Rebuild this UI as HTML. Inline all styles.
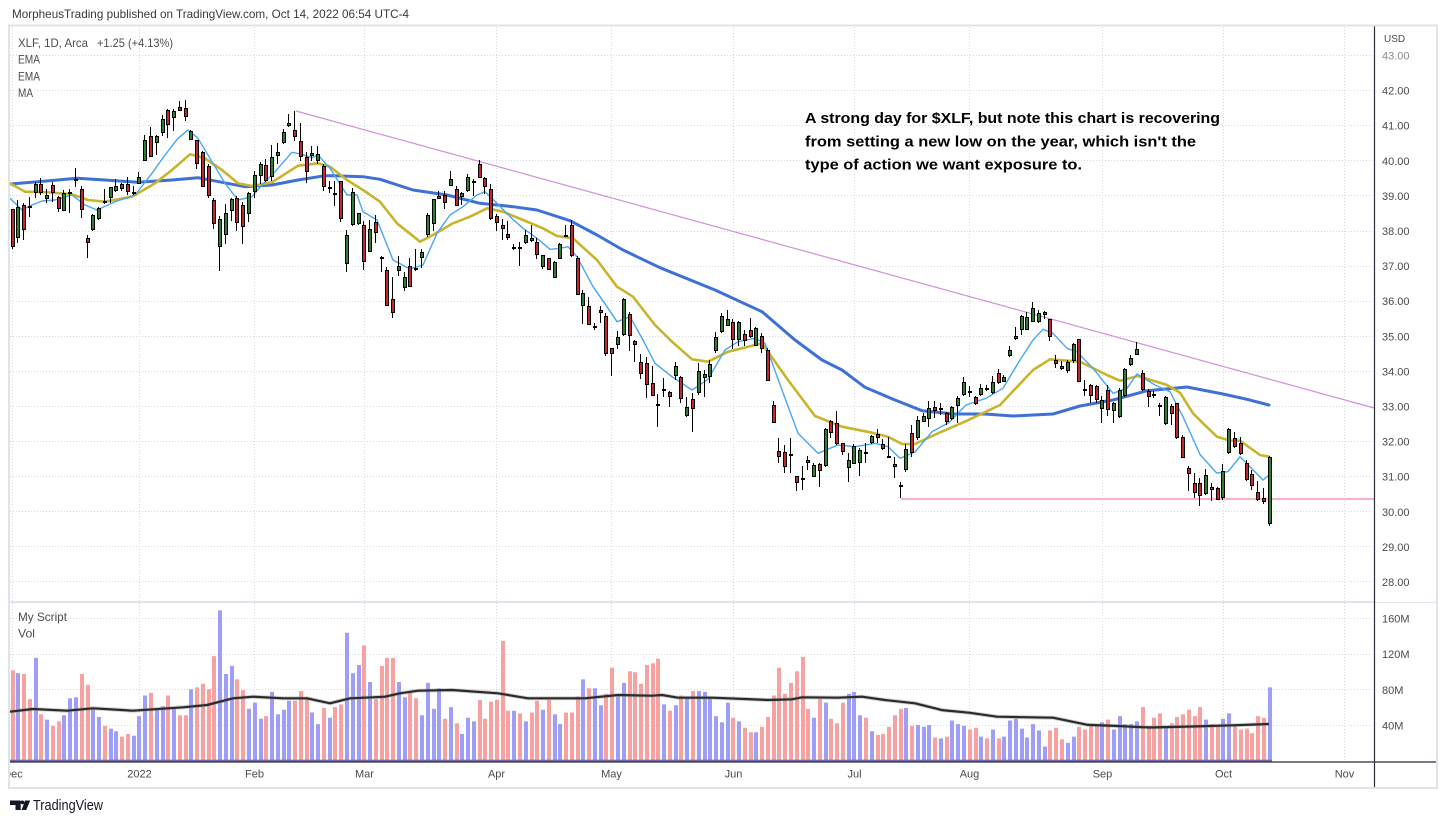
<!DOCTYPE html>
<html><head><meta charset="utf-8"><style>
html,body{margin:0;padding:0;background:#fff;}
svg{display:block;}
</style></head><body>
<svg id="c" width="1446" height="823" xmlns="http://www.w3.org/2000/svg" font-family="'Liberation Sans', sans-serif">
<rect x="0" y="0" width="1446" height="823" fill="#fff"/>
<text x="12" y="18" font-size="12" fill="#3a3a3a" textLength="397" lengthAdjust="spacingAndGlyphs">MorpheusTrading published on TradingView.com, Oct 14, 2022 06:54 UTC-4</text>

<!-- grid -->
<g stroke="#d6d9e1" stroke-width="1" stroke-dasharray="1 2" fill="none">
<path d="M10 55.5H1374M10 90.5H1374M10 125.5H1374M10 160.5H1374M10 195.5H1374M10 231.5H1374M10 266.5H1374M10 301.5H1374M10 336.5H1374M10 371.5H1374M10 406.5H1374M10 441.5H1374M10 476.5H1374M10 511.5H1374M10 546.5H1374M10 581.5H1374"/>
<path d="M10 618.5H1374M10 654.5H1374M10 689.5H1374M10 725.5H1374"/>
<path d="M12.5 27V601M139.5 27V601M254.5 27V601M364.5 27V601M496.5 27V601M611.5 27V601M733.5 27V601M854.5 27V601M969.5 27V601M1102.5 27V601M1223.5 27V601M1344.5 27V601"/>
<path d="M12.5 603V761M139.5 603V761M254.5 603V761M364.5 603V761M496.5 603V761M611.5 603V761M733.5 603V761M854.5 603V761M969.5 603V761M1102.5 603V761M1223.5 603V761M1344.5 603V761"/>
</g>

<!-- legend -->
<text x="18" y="47" font-size="12" fill="#4d4d4d" textLength="70" lengthAdjust="spacingAndGlyphs">XLF, 1D, Arca</text>
<text x="97" y="47" font-size="12" fill="#4d4d4d" textLength="76" lengthAdjust="spacingAndGlyphs">+1.25 (+4.13%)</text>
<text x="18" y="63.5" font-size="12" fill="#4d4d4d" textLength="22" lengthAdjust="spacingAndGlyphs">EMA</text>
<text x="18" y="80.3" font-size="12" fill="#4d4d4d" textLength="22" lengthAdjust="spacingAndGlyphs">EMA</text>
<text x="18" y="97" font-size="12" fill="#4d4d4d" textLength="15" lengthAdjust="spacingAndGlyphs">MA</text>
<text x="18" y="621" font-size="12" fill="#4d4d4d" textLength="49" lengthAdjust="spacingAndGlyphs">My Script</text>
<text x="18" y="637.5" font-size="12" fill="#4d4d4d" textLength="17" lengthAdjust="spacingAndGlyphs">Vol</text>

<!-- annotation -->
<g font-weight="bold" font-size="15" fill="#000">
<text x="805" y="123" textLength="415" lengthAdjust="spacingAndGlyphs">A strong day for $XLF, but note this chart is recovering</text>
<text x="805" y="146.3" textLength="391" lengthAdjust="spacingAndGlyphs">from setting a new low on the year, which isn't the</text>
<text x="805" y="169.3" textLength="277" lengthAdjust="spacingAndGlyphs">type of action we want exposure to.</text>
</g>

<!-- trend lines -->
<line x1="296" y1="111" x2="1374" y2="408" stroke="#d38fdc" stroke-width="1.2"/>
<line x1="901" y1="499" x2="1374" y2="499" stroke="#f6b3c9" stroke-width="2.2"/>

<!-- moving averages -->
<g fill="none" stroke-linejoin="round" stroke-linecap="round">
<polyline stroke="#3f70d6" stroke-width="3" points="10,184 38,181.7 77,178.3 105,180 138,182.3 172,180 198,177.7 222,182.3 245,186.7 272,185 298,180 325,175.7 335,175.7 363,176.7 380,179.3 413,190 447,195 480,203.3 513,206.7 537,210 570,220.7 597,235 623,250 660,267.7 715,290 762,311.7 795,340 822,360 842,370 865,387.3 895,400 922,410.7 955,414 985,414 1013,416 1053,414 1080,406 1113,400 1147,390.7 1187,387 1223,394 1247,399.3 1269,405"/>
<polyline stroke="#c9b42b" stroke-width="2.6" points="10,183.3 25,191.7 48,192.3 72,194.3 88,200 105,201.7 132,196.7 155,183.3 172,170 190,154.3 205,158.3 222,170 238,183.3 252,186 272,182.3 298,165.7 318,163.3 330,166.7 347,180 363,190 380,201.7 397,223.3 420,241.7 433,235 453,223.3 470,216.7 487,208.3 503,211.7 523,220 543,228.3 557,236 573,238.3 597,260 617,286.7 633,296.7 655,325 672,341.7 692,359.3 708,361.7 728,351.7 762,343.3 788,380 815,416 842,426.7 872,432.7 888,436.7 902,444 915,444 938,433.3 967,420.7 1000,405 1033,370 1050,359.3 1080,361.7 1107,375 1120,380.7 1138,376 1167,385 1180,392.7 1193,413.3 1203,423.3 1217,436.7 1230,440.5 1240,440.7 1260,455 1269,456.7"/>
<polyline stroke="#48a6f2" stroke-width="1.4" points="10,198.3 22,210 32,205 42,201 55,200 72,195 85,205 97,210 115,201.7 135,195 152,173.3 165,155 178,138.3 188,130 198,138.3 212,161.7 225,183.3 238,200 252,196.7 262,185 275,171.7 292,152.3 302,154.3 312,157.7 318,155 330,168.3 347,195 357,195 363,211.7 377,220 393,260 410,269 423,265 437,233.3 450,215 463,206.7 477,195 485,191.7 497,203.3 510,216.7 523,228.3 537,238.3 550,249.3 560,248.3 568,246.7 577,256.7 593,286.7 607,306.7 617,321.7 630,316.7 643,340 655,363.3 672,376.7 692,390 708,379.3 725,350 738,341.7 755,338.3 765,343.3 782,390 798,433.3 818,453.3 838,445 855,446.7 875,443.3 888,446.7 900,458.3 915,452 932,431.7 949,422.5 966,405 986,398.3 1003,388.3 1020,360 1033,340 1043,329.3 1053,333.3 1067,348.3 1077,352 1093,368.3 1113,393.3 1127,388.3 1137,374 1155,385 1170,391.7 1183,416.7 1200,454.5 1216.7,473 1228,471.7 1240,456.7 1263,480 1269,475"/>
</g>

<!-- candles -->
<path id="wk" fill="#000"/>
<path id="bo" fill="#000"/>
<path id="bu" fill="#2e7d32"/>
<path id="bd" fill="#c0282c"/>

<!-- volume -->
<path id="vu" fill="#9e9ef8"/>
<path id="vd" fill="#f9a0a0"/>
<rect x="10" y="759.7" width="1262" height="2" fill="#6f68ad"/>
<polyline fill="none" stroke="#9a9a9a" stroke-opacity="0.45" stroke-width="4" stroke-linejoin="round" points="10,711.7 33,709 67,710.7 93,708.3 133,710.7 183,707.3 207,705 233,698.3 253,696.7 283,698.3 307,698.3 330,703.3 350,698.3 373,697.3 385,696.7 400,693.3 418,690.7 452,690 498,693.3 528,698.3 585,698.3 618,695 652,695.7 662,695 678,697.7 712,697.7 745,699 768,700 792,699.3 802,697.3 838,697.7 862,696.7 885,700 915,703.3 942,710.1 969,712.7 997,716.7 1053,717.7 1088,724.9 1115,725.9 1150,727.5 1192,726.5 1233,725.3 1269,724"/>
<polyline fill="none" stroke="#2b2b2b" stroke-width="2.2" stroke-linejoin="round" points="10,711.7 33,709 67,710.7 93,708.3 133,710.7 183,707.3 207,705 233,698.3 253,696.7 283,698.3 307,698.3 330,703.3 350,698.3 373,697.3 385,696.7 400,693.3 418,690.7 452,690 498,693.3 528,698.3 585,698.3 618,695 652,695.7 662,695 678,697.7 712,697.7 745,699 768,700 792,699.3 802,697.3 838,697.7 862,696.7 885,700 915,703.3 942,710.1 969,712.7 997,716.7 1053,717.7 1088,724.9 1115,725.9 1150,727.5 1192,726.5 1233,725.3 1269,724"/>

<!-- pane separator & axes -->
<line x1="10" y1="602" x2="1436" y2="602" stroke="#e0e3eb" stroke-width="2"/>
<rect x="1375" y="27" width="60" height="575" fill="#fff"/>
<rect x="1375" y="603" width="60" height="158" fill="#fff"/>
<line x1="10" y1="762" x2="1436" y2="762" stroke="#2a2e39" stroke-width="1.2"/>
<line x1="1374.5" y1="26" x2="1374.5" y2="788" stroke="#2a2e39" stroke-width="1.2"/>

<!-- price axis labels -->
<g font-size="11" fill="#4a4a4a">
<text x="1384" y="42" font-size="10">USD</text>
<text x="1382" y="59.5" fill="#8a8a8a">43.00</text>
<text x="1382" y="94.6">42.00</text>
<text x="1382" y="129.7">41.00</text>
<text x="1382" y="164.8">40.00</text>
<text x="1382" y="199.9">39.00</text>
<text x="1382" y="235">38.00</text>
<text x="1382" y="270.1">37.00</text>
<text x="1382" y="305.2">36.00</text>
<text x="1382" y="340.3">35.00</text>
<text x="1382" y="375.4">34.00</text>
<text x="1382" y="410.5">33.00</text>
<text x="1382" y="445.6">32.00</text>
<text x="1382" y="480.7">31.00</text>
<text x="1382" y="515.8">30.00</text>
<text x="1382" y="550.9">29.00</text>
<text x="1382" y="586">28.00</text>
<text x="1382" y="622.3">160M</text>
<text x="1382" y="658.1">120M</text>
<text x="1382" y="693.9">80M</text>
<text x="1382" y="729.7">40M</text>
</g>

<!-- time axis labels -->
<g font-size="11" fill="#4a4a4a" text-anchor="middle">
<text x="13" y="777.5">Dec</text>
<text x="139.5" y="777.5">2022</text>
<text x="254.5" y="777.5">Feb</text>
<text x="364.5" y="777.5">Mar</text>
<text x="496.5" y="777.5">Apr</text>
<text x="611.5" y="777.5">May</text>
<text x="733.5" y="777.5">Jun</text>
<text x="854.5" y="777.5">Jul</text>
<text x="969.5" y="777.5">Aug</text>
<text x="1102.5" y="777.5">Sep</text>
<text x="1223.5" y="777.5">Oct</text>
<text x="1344.5" y="777.5">Nov</text>
</g>
<rect x="0" y="763" width="10" height="24" fill="#fff"/>

<!-- frame -->
<rect x="9" y="25.5" width="1428" height="762.5" fill="none" stroke="#e2e3e9" stroke-width="2"/>

<!-- TradingView logo -->
<path d="M10 800.5H20.7V810H15.5V805H10Z" fill="#131722"/>
<circle cx="22.4" cy="802.4" r="1.9" fill="#131722"/>
<path d="M25 800.5H30.2L26.2 810H21.6Z" fill="#131722"/>
<text x="33" y="810" font-size="15" fill="#131722" textLength="70" lengthAdjust="spacingAndGlyphs">TradingView</text>
</svg>
<script>
(function(){
var D=[
38.64,38.64,37.5,37.55, 37.79,38.88,37.65,38.67, 38.73,38.81,37.74,38.03, 38.7,38.98,38.4,38.65, 39.07,39.4,38.93,39.33,
39.33,39.5,39.02,39.07, 38.9,39.2,38.8,39.02, 39.3,39.4,38.84,39.07, 38.98,39.0,38.54,38.64, 38.57,39.16,38.57,39.08,
39.08,39.2,38.52,39.12, 39.44,39.79,39.26,39.48, 39.2,39.28,38.38,38.59, 37.81,37.88,37.22,37.67, 38.03,38.48,38.0,38.45,
38.35,38.67,38.3,38.65, 38.86,39.19,38.76,38.84, 38.93,39.26,38.81,39.24, 39.14,39.48,39.12,39.29, 39.33,39.38,39.14,39.19,
39.33,39.54,39.02,39.11, 39.05,39.27,39.02,39.1, 39.35,39.69,39.35,39.55, 40.0,40.73,40.0,40.59, 40.7,40.95,40.1,40.12,
40.5,40.74,40.17,40.7, 40.79,41.31,40.7,41.19, 41.45,41.48,40.64,41.03, 41.21,41.48,40.84,41.43, 41.52,41.7,41.43,41.43,
41.5,41.73,41.14,41.26, 40.59,40.88,40.59,40.86, 40.6,40.6,39.76,39.92, 40.26,40.29,39.26,39.26, 39.86,39.9,38.95,39.0,
38.88,38.95,38.05,38.19, 37.54,38.43,36.86,38.33, 37.9,38.76,37.62,38.52, 38.57,38.95,38.29,38.9, 38.95,39.0,38.0,38.24,
38.73,38.83,37.64,38.1, 38.48,39.12,38.27,39.08, 39.12,39.7,38.95,39.6, 39.57,39.97,39.33,39.9, 39.89,40.05,39.41,39.43,
39.54,40.46,39.43,40.12, 40.14,40.5,39.9,40.24, 40.52,40.9,40.48,40.83, 41.0,41.33,40.95,41.07, 40.88,41.43,40.55,40.69,
40.55,41.07,40.0,40.11, 40.1,40.24,39.38,39.67, 40.15,40.43,40.0,40.21, 40.0,40.43,39.9,40.2, 39.86,39.9,39.14,39.24,
39.2,39.43,39.07,39.24, 39.08,39.43,38.71,39.05, 39.43,39.43,38.26,38.33, 37.07,38.02,36.83,37.9, 38.16,39.22,38.14,39.12,
38.19,38.52,38.16,38.52, 38.16,38.29,36.88,37.12, 37.41,38.3,37.41,38.07, 38.26,38.45,37.67,37.95, 37.27,37.29,36.83,37.26,
36.9,36.97,35.86,35.86, 36.05,36.69,35.52,35.67, 36.86,37.29,36.73,37.0, 36.38,36.83,36.29,36.69, 37.0,37.24,36.41,36.41,
36.95,37.48,36.86,36.93, 37.24,37.48,36.95,37.4, 37.88,38.5,37.84,38.45, 38.19,38.92,38.0,38.92, 38.92,39.14,38.9,39.0,
39.03,39.14,38.62,38.8, 39.29,39.7,39.27,39.48, 39.21,39.29,38.7,38.71, 38.97,39.11,38.73,39.07, 39.14,39.62,39.11,39.54,
39.4,39.48,39.0,39.42, 39.9,40.02,39.5,39.5, 39.52,39.54,39.05,39.24, 39.19,39.35,38.31,38.33, 38.43,38.48,38.0,38.24,
38.16,38.33,37.74,38.07, 37.92,38.29,37.74,37.81, 37.54,37.64,37.45,37.55, 37.55,37.7,37.0,37.54, 37.67,38.02,37.62,37.9,
37.81,38.16,37.69,37.71, 37.7,37.81,37.19,37.31, 36.97,37.33,36.92,37.31, 37.24,37.24,36.88,36.9, 36.67,37.14,36.65,37.11,
37.21,37.67,37.19,37.64, 37.88,38.16,37.84,37.86, 38.16,38.3,37.27,37.29, 37.24,37.29,36.17,36.17, 35.86,36.33,35.36,36.24,
35.86,36.12,35.31,35.31, 35.28,35.38,35.19,35.3, 35.67,35.86,35.38,35.76, 35.59,35.67,34.45,34.5, 34.67,34.67,33.86,34.5,
34.76,35.14,34.64,34.98, 35.03,36.1,35.0,36.05, 35.64,35.69,34.59,35.0, 34.88,34.9,34.27,34.74, 34.27,34.5,33.78,33.92,
34.24,34.41,33.24,33.6, 33.67,34.14,33.29,33.29, 33.06,33.36,32.43,33.04, 33.45,33.81,33.27,33.5, 33.41,33.43,33.0,33.27,
33.88,34.26,33.76,34.14, 33.84,33.88,33.1,33.21, 32.73,33.26,32.69,32.98, 33.21,33.38,32.26,32.92, 33.38,34.24,33.33,34.0,
33.81,34.05,33.26,33.92, 33.84,34.33,33.67,34.22, 34.57,35.11,34.52,34.98, 35.11,35.65,35.1,35.57, 35.3,35.76,35.29,35.48,
35.4,35.48,34.64,34.9, 34.9,35.43,34.71,35.4, 35.07,35.19,34.73,34.88, 35.19,35.52,34.95,34.97, 34.73,35.27,34.73,35.24,
35.0,35.1,34.52,34.64, 34.62,34.67,33.74,33.74, 33.05,33.17,32.52,32.52, 31.73,32.11,31.4,31.55, 31.71,31.9,31.1,31.29,
31.65,32.11,31.1,31.63, 31.02,31.02,30.6,30.83, 30.95,31.3,30.62,30.93, 31.48,31.59,31.19,31.38, 31.0,31.38,31.0,31.33,
31.35,31.4,30.7,31.17, 31.31,32.38,31.29,32.35, 32.6,32.62,32.11,32.24, 32.54,32.88,31.9,31.92, 31.95,31.97,31.62,31.71,
31.24,31.67,30.86,31.48, 31.36,31.93,31.36,31.88, 31.38,31.81,31.03,31.76, 31.7,31.95,31.38,31.69, 31.95,32.19,31.93,32.16,
32.21,32.35,31.97,32.1, 31.93,32.07,31.76,31.79, 31.6,32.14,31.57,31.58, 31.36,31.57,30.97,31.29, 30.76,30.86,30.38,30.7,
31.19,31.93,31.14,31.78, 32.24,32.48,31.57,31.67, 32.1,32.73,32.05,32.62, 32.57,32.81,32.55,32.73, 32.64,33.16,32.41,32.95,
32.98,33.16,32.67,32.86, 32.95,33.11,32.76,32.96, 32.81,32.83,32.48,32.57, 32.64,33.02,32.62,33.0, 33.02,33.29,32.52,33.24,
33.33,33.84,33.3,33.71, 33.45,33.59,33.26,33.44, 33.27,33.3,33.05,33.07, 33.33,33.64,33.29,33.54, 33.54,33.62,33.43,33.46,
33.38,33.88,33.36,33.71, 33.95,34.07,33.65,33.67, 33.71,33.9,33.69,33.84, 34.45,34.71,34.41,34.62, 34.92,35.26,34.9,35.02,
35.17,35.62,35.05,35.57, 35.19,35.69,35.17,35.55, 35.41,35.98,35.4,35.81, 35.41,35.76,35.38,35.65, 35.6,35.73,35.48,35.69,
35.48,35.5,34.86,34.98, 34.33,34.48,34.1,34.22, 34.16,34.29,34.05,34.07, 34.0,34.33,33.95,34.26, 34.29,34.81,34.24,34.79,
34.93,34.93,33.71,33.71, 33.5,33.76,33.3,33.48, 33.62,33.65,33.1,33.3, 33.57,33.62,33.1,33.19, 32.92,33.29,32.52,33.19,
33.48,33.62,32.73,32.9, 32.88,33.14,32.52,33.1, 32.7,33.52,32.67,33.48, 33.29,34.1,33.27,34.07, 34.19,34.48,34.16,34.38,
34.48,34.83,34.46,34.65, 33.95,34.05,33.43,33.48, 33.43,33.5,32.98,33.27, 33.35,33.43,33.24,33.29, 33.05,33.1,32.73,33.04,
32.5,33.29,32.48,33.27, 33.02,33.07,32.48,32.78, 33.1,33.11,32.08,32.1, 32.14,32.19,31.52,31.54, 31.24,31.31,30.6,31.07,
30.81,31.1,30.38,30.54, 30.83,30.95,30.17,30.45, 30.5,31.21,30.48,31.05, 30.7,30.81,30.31,30.62, 30.67,30.71,30.33,30.35,
30.38,31.36,30.33,31.17, 31.67,32.4,31.65,32.35, 32.1,32.27,31.81,31.84, 31.95,32.12,31.62,31.64, 31.38,31.48,30.89,30.9,
31.08,31.19,30.62,30.74, 30.55,30.88,30.3,30.35, 30.38,30.69,30.21,30.29, 29.65,31.6,29.6,31.55
];
var V=[102,99,98,70,116,53,47,40,45,52,71,72,98,86,59,50,40,37,34,28,31,29,51,74,77,59,62,74,61,52,
52,81,83,87,81,118,169,98,107,92,80,59,66,48,51,78,53,58,68,68,79,72,55,42,60,49,61,64,144,99,
108,130,89,70,107,116,116,89,72,77,71,52,88,59,82,48,61,43,31,49,45,69,48,67,69,135,57,57,54,45,
55,68,58,69,53,42,55,55,73,92,82,82,63,76,105,73,88,101,100,87,108,110,115,64,57,63,74,71,79,79,
78,71,51,44,66,49,45,38,33,33,39,50,74,105,76,88,101,117,59,49,70,66,48,43,66,76,78,52,49,34,
30,31,39,52,59,60,40,41,39,41,27,26,28,46,42,40,36,38,28,26,36,26,28,46,48,37,27,42,35,17,
35,38,25,21,28,39,36,42,41,44,47,36,51,42,42,45,61,40,49,54,40,43,50,53,58,51,61,47,42,40,
48,54,42,36,37,32,51,49,83];
var X0=12.1,DX=5.766;
function py(p){return 55.5+(43-p)*35.1;}
function vy(v){return 761.7-v*0.895;}
var wk='',bo='',bu='',bd='',vu='',vd='';
var n=D.length/4;
for(var i=0;i<n;i++){
 var o=D[4*i],h=D[4*i+1],l=D[4*i+2],c=D[4*i+3];
 var k=Math.round(X0+DX*i-0.5);
 var yh=Math.round(py(h)),yl=Math.round(py(l));
 if(yl-yh<1)yl=yh+1;
 wk+='M'+k+' '+yh+'h1V'+yl+'h-1z';
 var t=Math.round(py(Math.max(o,c))),b=Math.round(py(Math.min(o,c)));
 if(b-t<2)b=t+2;
 bo+='M'+(k-1)+' '+t+'h4V'+b+'h-4z';
 var up=c>=o;
 if(b-t>2){
  var r='M'+k+' '+(t+1)+'h2V'+(b-1)+'h-2z';
  if(up)bu+=r;else bd+=r;
 }
 var vt=vy(V[i]).toFixed(1);
 var vr='M'+(k-1)+' '+vt+'h4V761.7h-4z';
 if(up)vu+=vr;else vd+=vr;
}
document.getElementById('wk').setAttribute('d',wk);
document.getElementById('bo').setAttribute('d',bo);
document.getElementById('bu').setAttribute('d',bu);
document.getElementById('bd').setAttribute('d',bd);
document.getElementById('vu').setAttribute('d',vu);
document.getElementById('vd').setAttribute('d',vd);
})();
</script>
</body></html>
